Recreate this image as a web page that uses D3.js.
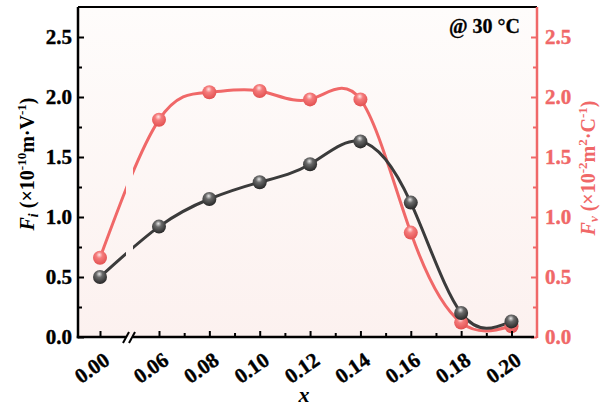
<!DOCTYPE html>
<html>
<head>
<meta charset="utf-8">
<script src="https://cdn.jsdelivr.net/npm/d3@7"></script>
<style>
  body { margin: 0; background: #fff; }
  text { font-family: "Liberation Serif", "Times New Roman", serif; font-weight: bold; }
</style>
</head>
<body>
<div id="chart"></div>
<script>
// data
var xVals = [0.00, 0.06, 0.08, 0.10, 0.12, 0.14, 0.16, 0.18, 0.20];
var fiVals = [0.50, 0.92, 1.15, 1.29, 1.44, 1.63, 1.12, 0.20, 0.13];
var fvVals = [0.66, 1.81, 2.04, 2.05, 1.98, 1.98, 0.87, 0.12, 0.09];
var xTickVals = [0.00, 0.06, 0.08, 0.10, 0.12, 0.14, 0.16, 0.18, 0.20];
var xMinorVals = [0.07, 0.09, 0.11, 0.13, 0.15, 0.17, 0.19];
var yTickVals = [0, 0.5, 1.0, 1.5, 2.0, 2.5];
var yMinorVals = [0.25, 0.75, 1.25, 1.75, 2.25];

var svgWidth = 602;
var svgHeight = 410;

var margin = { top: 7, right: 65, bottom: 73, left: 78 };
var width = svgWidth - margin.left - margin.right;
var height = svgHeight - margin.top - margin.bottom;

var black = "#3b3b3b";
var red = "#f06868";

var svg = d3.select("#chart")
  .append("svg")
  .attr("width", svgWidth)
  .attr("height", svgHeight);

var defs = svg.append("defs");

var bg = defs.append("linearGradient")
  .attr("id", "bg")
  .attr("x1", 0).attr("y1", 0).attr("x2", 0).attr("y2", 1);
bg.append("stop").attr("offset", "0%").attr("stop-color", "#fefcfb");
bg.append("stop").attr("offset", "100%").attr("stop-color", "#fcf1ef");

function sphere(id, hi, mid, dark) {
  var g = defs.append("radialGradient")
    .attr("id", id)
    .attr("cx", "45%").attr("cy", "35%").attr("r", "65%")
    .attr("fx", "45%").attr("fy", "28%");
  g.append("stop").attr("offset", "0%").attr("stop-color", hi);
  g.append("stop").attr("offset", "35%").attr("stop-color", mid);
  g.append("stop").attr("offset", "100%").attr("stop-color", dark);
}
sphere("ballBlack", "#e6e6e6", "#6a6a6a", "#262626");
sphere("ballRed", "#ffe6e6", "#f57c7c", "#e25050");

var chartGroup = svg.append("g")
  .attr("transform", `translate(${margin.left}, ${margin.top})`);

// broken x axis: 0.00 sits alone before the break
var xScale = d3.scaleLinear()
  .domain([0, 0.06, 0.20])
  .range([22, 81, 433.5]);

var yScale = d3.scaleLinear()
  .domain([0, 2.75])
  .range([height, 0]);

var yRight = d3.scaleLinear()
  .domain([0, 2.75])
  .range([height, 0]);

chartGroup.append("rect")
  .attr("width", width)
  .attr("height", height)
  .attr("fill", "url(#bg)");

// clip the curves at the axis break
var clip = defs.append("clipPath").attr("id", "breakClip");
clip.append("rect").attr("x", 0).attr("y", 0).attr("width", 48).attr("height", height);
clip.append("rect").attr("x", 55).attr("y", 0).attr("width", width - 55).attr("height", height);

var rows = xVals.map(function(x, i) {
  return { x: x, fi: fiVals[i], fv: fvVals[i] };
});

var lineFi = d3.line()
  .x(d => xScale(d.x))
  .y(d => yScale(d.fi))
  .curve(d3.curveNatural);

var lineFv = d3.line()
  .x(d => xScale(d.x))
  .y(d => yRight(d.fv))
  .curve(d3.curveNatural);

chartGroup.append("path")
  .datum(rows)
  .attr("d", lineFv)
  .attr("fill", "none")
  .attr("stroke", red)
  .attr("stroke-width", 3)
  .attr("clip-path", "url(#breakClip)");

chartGroup.append("path")
  .datum(rows)
  .attr("d", lineFi)
  .attr("fill", "none")
  .attr("stroke", black)
  .attr("stroke-width", 3)
  .attr("clip-path", "url(#breakClip)");

chartGroup.selectAll(".dotFv")
  .data(rows)
  .enter()
  .append("circle")
  .attr("class", "dotFv")
  .attr("cx", d => xScale(d.x))
  .attr("cy", d => yRight(d.fv))
  .attr("r", 7)
  .attr("fill", "url(#ballRed)");

chartGroup.selectAll(".dotFi")
  .data(rows)
  .enter()
  .append("circle")
  .attr("class", "dotFi")
  .attr("cx", d => xScale(d.x))
  .attr("cy", d => yScale(d.fi))
  .attr("r", 7)
  .attr("fill", "url(#ballBlack)");

// left axis
var leftAxis = d3.axisLeft(yScale)
  .tickValues(yTickVals)
  .tickSize(-6)
  .tickPadding(6)
  .tickFormat(d3.format(".1f"));
var gLeft = chartGroup.append("g").call(leftAxis);
gLeft.select(".domain").remove();
gLeft.selectAll(".tick line").attr("stroke", "#000").attr("stroke-width", 2);
gLeft.selectAll("text").attr("font-size", 21).attr("fill", "#000")
  .attr("stroke", "#000").attr("stroke-width", 0.4);

var gLeftMinor = chartGroup.append("g")
  .call(d3.axisLeft(yScale).tickValues(yMinorVals).tickSize(-4).tickFormat(""));
gLeftMinor.select(".domain").remove();
gLeftMinor.selectAll(".tick line").attr("stroke", "#000").attr("stroke-width", 2);

// right axis
var rightAxis = d3.axisRight(yRight)
  .tickValues(yTickVals)
  .tickSize(-6)
  .tickPadding(8)
  .tickFormat(d3.format(".1f"));
var gRight = chartGroup.append("g")
  .attr("transform", `translate(${width}, 0)`)
  .call(rightAxis);
gRight.select(".domain").remove();
gRight.selectAll(".tick line").attr("stroke", red).attr("stroke-width", 2);
gRight.selectAll("text").attr("font-size", 21).attr("fill", red)
  .attr("stroke", red).attr("stroke-width", 0.4);

var gRightMinor = chartGroup.append("g")
  .attr("transform", `translate(${width}, 0)`)
  .call(d3.axisRight(yRight).tickValues(yMinorVals).tickSize(-4).tickFormat(""));
gRightMinor.select(".domain").remove();
gRightMinor.selectAll(".tick line").attr("stroke", red).attr("stroke-width", 2);

// bottom axis ticks
var gBottom = chartGroup.append("g")
  .attr("transform", `translate(0, ${height})`)
  .call(d3.axisBottom(xScale).tickValues(xTickVals).tickSize(-6).tickFormat(""));
gBottom.select(".domain").remove();
gBottom.selectAll(".tick line").attr("stroke", "#000").attr("stroke-width", 2);

var gBottomMinor = chartGroup.append("g")
  .attr("transform", `translate(0, ${height})`)
  .call(d3.axisBottom(xScale).tickValues(xMinorVals).tickSize(-4).tickFormat(""));
gBottomMinor.select(".domain").remove();
gBottomMinor.selectAll(".tick line").attr("stroke", "#000").attr("stroke-width", 2);

chartGroup.selectAll(".xLabel")
  .data(xTickVals)
  .enter()
  .append("text")
  .attr("class", "xLabel")
  .attr("transform", d => `translate(${xScale(d) - 8}, ${height + 31}) rotate(-35)`)
  .attr("text-anchor", "middle")
  .attr("dominant-baseline", "central")
  .attr("font-size", 21)
  .attr("stroke", "#000")
  .attr("stroke-width", 0.4)
  .text(d3.format(".2f"));

// frame lines
chartGroup.append("line")
  .attr("x1", 0).attr("x2", width).attr("y1", 0).attr("y2", 0)
  .attr("stroke", "#000").attr("stroke-width", 2);
chartGroup.append("line")
  .attr("x1", 0).attr("x2", 0).attr("y1", 0).attr("y2", height + 1.25)
  .attr("stroke", "#000").attr("stroke-width", 2.5);
chartGroup.append("line")
  .attr("x1", width).attr("x2", width).attr("y1", 0).attr("y2", height + 1)
  .attr("stroke", red).attr("stroke-width", 2.5);
chartGroup.append("line")
  .attr("x1", -1.25).attr("x2", 48).attr("y1", height).attr("y2", height)
  .attr("stroke", "#000").attr("stroke-width", 2.5);
chartGroup.append("line")
  .attr("x1", 55).attr("x2", width - 3).attr("y1", height).attr("y2", height)
  .attr("stroke", "#000").attr("stroke-width", 2.5);

// break marks
[45, 51].forEach(function(bx) {
  chartGroup.append("line")
    .attr("x1", bx).attr("y1", height + 6)
    .attr("x2", bx + 6).attr("y2", height - 5)
    .attr("stroke", "#000").attr("stroke-width", 2);
});

// annotation
chartGroup.append("text")
  .attr("x", width - 17)
  .attr("y", 26)
  .attr("text-anchor", "end")
  .attr("font-size", 20)
  .attr("stroke", "#000")
  .attr("stroke-width", 0.3)
  .text("@ 30 °C");

// axis titles
chartGroup.append("text")
  .attr("x", xScale(0.12) - 6)
  .attr("y", height + 65)
  .attr("text-anchor", "middle")
  .attr("font-size", 22)
  .attr("font-style", "italic")
  .attr("font-weight", "normal")
  .text("x");

var leftTitle = svg.append("text")
  .attr("transform", "translate(34, 164) rotate(-90)")
  .attr("text-anchor", "middle")
  .attr("font-size", 20);
leftTitle.append("tspan").attr("font-style", "italic").text("F");
leftTitle.append("tspan").attr("font-style", "italic").attr("font-size", 14).attr("dy", 4).text("i");
leftTitle.append("tspan").attr("dy", -4).text(" (×10");
leftTitle.append("tspan").attr("font-size", 13).attr("dy", -8).text("-10");
leftTitle.append("tspan").attr("dy", 8).text("m·V");
leftTitle.append("tspan").attr("font-size", 13).attr("dy", -8).text("-1");
leftTitle.append("tspan").attr("dy", 8).text(")");

var rightTitle = svg.append("text")
  .attr("transform", "translate(595, 168) rotate(-90)")
  .attr("text-anchor", "middle")
  .attr("font-size", 20)
  .attr("fill", red);
rightTitle.append("tspan").attr("font-style", "italic").text("F");
rightTitle.append("tspan").attr("font-style", "italic").attr("font-size", 13).attr("dy", 3).text("v");
rightTitle.append("tspan").attr("dy", -3).text(" (×10");
rightTitle.append("tspan").attr("font-size", 13).attr("dy", -8).text("-2");
rightTitle.append("tspan").attr("dy", 8).text("m");
rightTitle.append("tspan").attr("font-size", 13).attr("dy", -8).text("2");
rightTitle.append("tspan").attr("dy", 8).text("·C");
rightTitle.append("tspan").attr("font-size", 13).attr("dy", -8).text("-1");
rightTitle.append("tspan").attr("dy", 8).text(")");
</script>
</body>
</html>
